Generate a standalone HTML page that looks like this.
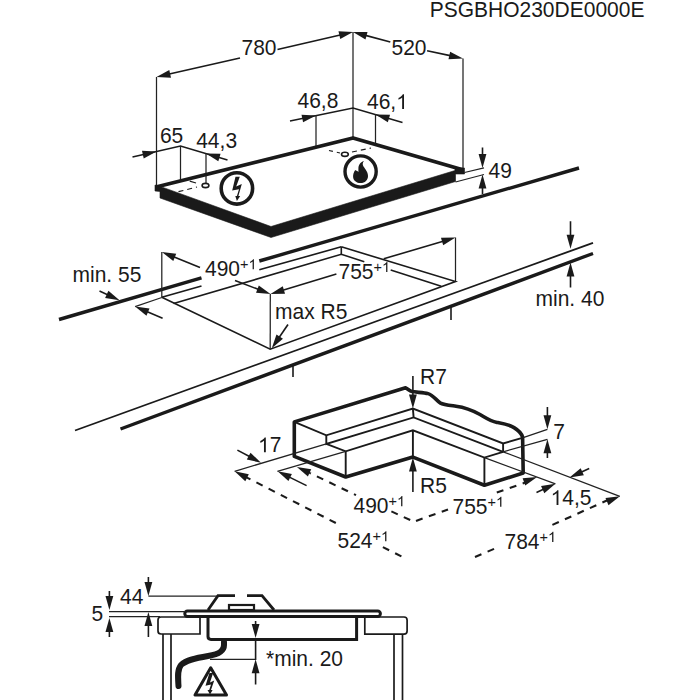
<!DOCTYPE html>
<html><head><meta charset="utf-8"><style>
html,body{margin:0;padding:0;background:#fff;width:700px;height:700px;overflow:hidden}
svg{display:block}
text{font-family:"Liberation Sans",sans-serif;fill:#1a1a1a;stroke:none} .one{fill:none}
</style></head><body>
<svg width="700" height="700" viewBox="0 0 700 700" stroke="#1a1a1a" stroke-linecap="butt">
<text transform="translate(429.70,16.5) scale(1,1.02)" font-size="21">PSGBHO230DE0000E</text>
<line x1="156.50" y1="77.00" x2="156.50" y2="186.00" stroke-width="1.25" stroke="#222"/>
<line x1="353.00" y1="32.00" x2="353.00" y2="137.50" stroke-width="1.25" stroke="#222"/>
<line x1="240.00" y1="58.00" x2="168.20" y2="74.34" stroke-width="1.6" />
<polygon points="156.50,77.00 169.29,70.09 171.02,77.70" fill="#1a1a1a" stroke="none"/>
<line x1="277.50" y1="49.50" x2="341.31" y2="34.71" stroke-width="1.6" />
<polygon points="353.00,32.00 340.24,38.96 338.48,31.36" fill="#1a1a1a" stroke="none"/>
<text transform="translate(241.50,54.9) scale(1,1.02)" font-size="21">780</text>
<line x1="463.00" y1="58.40" x2="463.00" y2="168.00" stroke-width="1.25" stroke="#222"/>
<line x1="390.30" y1="42.10" x2="364.58" y2="35.14" stroke-width="1.6" />
<polygon points="353.00,32.00 367.53,31.89 365.49,39.42" fill="#1a1a1a" stroke="none"/>
<line x1="427.10" y1="50.70" x2="451.27" y2="55.88" stroke-width="1.6" />
<polygon points="463.00,58.40 448.49,59.28 450.13,51.65" fill="#1a1a1a" stroke="none"/>
<text transform="translate(391.50,55) scale(1,1.02)" font-size="21">520</text>
<polyline points="290.00,121.00 353.00,108.00 402.50,122.50" stroke-width="1.6" fill="none" />
<polygon points="316.00,115.60 303.09,122.27 301.50,114.63" fill="#1a1a1a" stroke="none"/>
<polygon points="375.50,114.60 390.03,114.79 387.84,122.27" fill="#1a1a1a" stroke="none"/>
<line x1="316.00" y1="115.00" x2="316.00" y2="146.00" stroke-width="1.25" stroke="#222"/>
<line x1="375.50" y1="114.00" x2="375.50" y2="144.00" stroke-width="1.25" stroke="#222"/>
<text transform="translate(297.50,108.2) scale(1,1.02)" font-size="21">46,8</text>
<text transform="translate(367.00,109) scale(1,1.02)" font-size="21">46,<tspan class="one">1</tspan></text>
<polyline points="132.50,157.00 180.50,146.00 227.50,160.00" stroke-width="1.6" fill="none" />
<polygon points="156.50,151.50 143.72,158.43 141.98,150.83" fill="#1a1a1a" stroke="none"/>
<polygon points="206.00,153.60 220.53,153.86 218.31,161.33" fill="#1a1a1a" stroke="none"/>
<line x1="180.50" y1="146.00" x2="180.50" y2="180.00" stroke-width="1.25" stroke="#222"/>
<line x1="206.00" y1="153.60" x2="206.00" y2="183.00" stroke-width="1.25" stroke="#222"/>
<text transform="translate(159.90,143) scale(1,1.02)" font-size="21">65</text>
<text transform="translate(196.20,147.5) scale(1,1.02)" font-size="21">44,3</text>
<line x1="482.50" y1="147.50" x2="482.50" y2="156.00" stroke-width="1.6" />
<polygon points="482.50,168.00 478.60,154.00 486.40,154.00" fill="#1a1a1a" stroke="none"/>
<line x1="482.50" y1="194.00" x2="482.50" y2="186.50" stroke-width="1.6" />
<polygon points="482.50,174.50 486.40,188.50 478.60,188.50" fill="#1a1a1a" stroke="none"/>
<line x1="464.50" y1="172.50" x2="484.00" y2="167.80" stroke-width="1.25" stroke="#222"/>
<line x1="455.50" y1="182.00" x2="484.00" y2="174.50" stroke-width="1.25" stroke="#222"/>
<text transform="translate(488.50,178) scale(1,1.02)" font-size="21">49</text>
<polyline points="156.00,187.00 353.00,138.00 463.50,170.00" stroke-width="3.8" fill="none" stroke-linejoin="round"/>
<polygon points="155.00,185.00 163.00,187.40 271.00,226.50 455.00,170.50 455.00,168.00 464.50,168.00 464.50,174.00 455.50,174.00 455.50,181.50 271.00,237.50 160.00,198.00 160.00,191.50 155.00,191.00" stroke-width="0.6" fill="#1a1a1a" />
<ellipse cx="205.5" cy="185.5" rx="3.4" ry="2.1" fill="none" stroke-width="1.6"/>
<ellipse cx="344.9" cy="154.3" rx="3.4" ry="2.1" fill="none" stroke-width="1.6"/>
<line x1="178.50" y1="191.70" x2="197.00" y2="187.00" stroke-width="1.2" stroke-dasharray="5 4"/>
<line x1="189.70" y1="181.20" x2="196.00" y2="183.00" stroke-width="1.2" />
<line x1="329.00" y1="150.50" x2="340.00" y2="153.00" stroke-width="1.2" stroke-dasharray="4 4"/>
<line x1="352.00" y1="152.00" x2="371.00" y2="148.00" stroke-width="1.2" stroke-dasharray="5 4"/>
<circle cx="236.9" cy="188.4" r="15.7" fill="none" stroke-width="3.6"/>
<polygon points="235.5,176.8 239.8,176.8 236.2,186.6 241.8,184.0 238.4,196.0 240.2,196.0 236.9,201.0 235.3,196.0 236.9,196.0 239.0,189.2 232.2,190.6" fill="#1a1a1a" stroke="none"/>
<circle cx="360.6" cy="171.5" r="15.6" fill="none" stroke-width="3.4"/>
<path d="M364,160.9 C360,162 358.5,165 358.4,168.5 L358.4,172 C357.5,171 356,170.5 355.2,170 C353.6,172 353,175 353.1,177 C353.3,180.5 356.5,183.1 360.6,183.1 C365,183.1 368,180 368,176 C368,172 365.5,169.5 363.5,166.5 C362.3,164.5 362.5,162.5 364,160.9 Z" fill="#1a1a1a" stroke="none"/>
<line x1="59.00" y1="319.50" x2="201.50" y2="277.90" stroke-width="3.4" />
<line x1="259.30" y1="261.00" x2="579.00" y2="168.00" stroke-width="3.4" />
<line x1="161.80" y1="297.30" x2="201.50" y2="286.00" stroke-width="1.6" />
<line x1="259.30" y1="269.80" x2="341.30" y2="246.80" stroke-width="1.6" />
<polyline points="341.30,246.80 455.50,281.50 270.20,349.20 161.80,297.30" stroke-width="1.6" fill="none" />
<polyline points="173.60,303.50 341.30,254.30 364.30,261.65" stroke-width="1.6" fill="none" />
<line x1="390.70" y1="270.10" x2="441.25" y2="286.25" stroke-width="1.6" />
<line x1="341.30" y1="246.80" x2="341.30" y2="254.30" stroke-width="1.6" />
<line x1="161.80" y1="252.00" x2="161.80" y2="297.30" stroke-width="1.25" stroke="#222"/>
<line x1="200.00" y1="267.50" x2="172.92" y2="256.51" stroke-width="1.6" />
<polygon points="161.80,252.00 176.24,253.65 173.31,260.88" fill="#1a1a1a" stroke="none"/>
<line x1="235.00" y1="280.50" x2="259.28" y2="289.73" stroke-width="1.6" />
<polygon points="270.50,294.00 256.03,292.67 258.80,285.38" fill="#1a1a1a" stroke="none"/>
<line x1="270.30" y1="294.00" x2="270.20" y2="349.20" stroke-width="1.25" stroke="#222"/>
<line x1="336.40" y1="274.00" x2="281.98" y2="290.52" stroke-width="1.6" />
<polygon points="270.50,294.00 282.76,286.20 285.03,293.67" fill="#1a1a1a" stroke="none"/>
<line x1="383.75" y1="258.80" x2="444.00" y2="240.92" stroke-width="1.6" />
<polygon points="455.50,237.50 443.19,245.22 440.97,237.75" fill="#1a1a1a" stroke="none"/>
<line x1="455.50" y1="237.50" x2="455.50" y2="281.50" stroke-width="1.25" stroke="#222"/>
<text transform="translate(205.00,276) scale(1,1.02)" font-size="21">490<tspan font-size="14.5" dy="-6.5">+<tspan class="one">1</tspan></tspan></text>
<text transform="translate(338.50,278.75) scale(1,1.02)" font-size="21">755<tspan font-size="14.5" dy="-6.5">+<tspan class="one">1</tspan></tspan></text>
<line x1="99.50" y1="291.00" x2="108.60" y2="295.19" stroke-width="1.6" />
<polygon points="119.50,300.20 105.15,297.89 108.41,290.81" fill="#1a1a1a" stroke="none"/>
<line x1="162.60" y1="318.30" x2="146.14" y2="311.30" stroke-width="1.6" />
<polygon points="135.10,306.60 149.51,308.49 146.46,315.67" fill="#1a1a1a" stroke="none"/>
<line x1="135.10" y1="306.60" x2="161.80" y2="297.50" stroke-width="1.25" stroke="#222"/>
<text transform="translate(72.50,281.8) scale(1,1.02)" font-size="21">min. 55</text>
<line x1="75.00" y1="430.50" x2="593.00" y2="242.80" stroke-width="1.8" />
<line x1="120.50" y1="429.00" x2="593.00" y2="253.50" stroke-width="3.4" />
<line x1="293.00" y1="364.50" x2="293.00" y2="377.00" stroke-width="1.6" />
<line x1="451.00" y1="306.00" x2="451.00" y2="320.00" stroke-width="1.6" />
<line x1="570.50" y1="221.25" x2="570.50" y2="236.75" stroke-width="1.6" />
<polygon points="570.50,248.75 566.60,234.75 574.40,234.75" fill="#1a1a1a" stroke="none"/>
<line x1="570.50" y1="287.50" x2="570.50" y2="274.50" stroke-width="1.6" />
<polygon points="570.50,262.50 574.40,276.50 566.60,276.50" fill="#1a1a1a" stroke="none"/>
<text transform="translate(535.50,306) scale(1,1.02)" font-size="21">min. 40</text>
<line x1="288.00" y1="324.50" x2="278.57" y2="338.29" stroke-width="1.6" />
<polygon points="271.80,348.20 276.48,334.44 282.92,338.84" fill="#1a1a1a" stroke="none"/>
<text transform="translate(275.00,318.8) scale(1,1.02)" font-size="21">max R5</text>
<path d="M294.3,456.4 L294.3,421.9 L405.6,387.8 C408,389 409.5,391 412,391.6 C416,392.4 424,392.4 428,393.6 C433,395 436,400 440,402.8 C444,405 450,405.4 456,406.2 C464,407.2 472,410 480,414.5 C486,418 490,421 497,422.4 C503,423.5 509,424.5 514,427.6 C518,430 521,432 522.6,437 L523.2,473 L484.4,485.2 L412.9,457.1 L345.7,477 Z" fill="none" stroke-width="3.6" stroke-linejoin="round"/>
<polyline points="294.30,421.90 326.30,435.30 412.90,408.60 503.10,443.40 523.20,437.60" stroke-width="1.9" fill="none" />
<polyline points="326.30,435.30 326.30,443.90 413.60,417.40 503.10,451.80" stroke-width="1.9" fill="none" />
<line x1="412.90" y1="408.60" x2="413.60" y2="417.40" stroke-width="1.9" />
<line x1="503.10" y1="443.40" x2="503.10" y2="451.80" stroke-width="1.9" />
<polyline points="326.30,443.90 345.70,451.30 412.90,430.30 484.40,457.60 503.10,451.80" stroke-width="1.9" fill="none" />
<line x1="345.70" y1="451.30" x2="345.70" y2="477.00" stroke-width="1.9" />
<line x1="412.90" y1="430.30" x2="412.90" y2="457.10" stroke-width="1.9" />
<line x1="484.40" y1="457.60" x2="484.40" y2="485.20" stroke-width="1.9" />
<line x1="412.90" y1="376.00" x2="412.90" y2="396.60" stroke-width="1.6" />
<polygon points="412.90,408.60 409.00,394.60 416.80,394.60" fill="#1a1a1a" stroke="none"/>
<line x1="412.90" y1="492.00" x2="412.90" y2="469.50" stroke-width="1.6" />
<polygon points="412.90,457.50 416.80,471.50 409.00,471.50" fill="#1a1a1a" stroke="none"/>
<text transform="translate(420.00,384) scale(1,1.02)" font-size="21">R7</text>
<text transform="translate(420.00,492.9) scale(1,1.02)" font-size="21">R5</text>
<line x1="523.20" y1="437.60" x2="547.40" y2="429.30" stroke-width="1.25" stroke="#222"/>
<line x1="503.10" y1="451.80" x2="547.40" y2="439.30" stroke-width="1.25" stroke="#222"/>
<line x1="547.40" y1="407.00" x2="547.40" y2="417.30" stroke-width="1.6" />
<polygon points="547.40,429.30 543.50,415.30 551.30,415.30" fill="#1a1a1a" stroke="none"/>
<line x1="547.40" y1="458.00" x2="547.40" y2="451.30" stroke-width="1.6" />
<polygon points="547.40,439.30 551.30,453.30 543.50,453.30" fill="#1a1a1a" stroke="none"/>
<text transform="translate(553.20,438.5) scale(1,1.02)" font-size="21">7</text>
<line x1="234.60" y1="471.30" x2="326.30" y2="443.90" stroke-width="1.25" stroke="#222"/>
<line x1="277.40" y1="471.30" x2="345.70" y2="451.30" stroke-width="1.25" stroke="#222"/>
<line x1="237.40" y1="450.10" x2="250.41" y2="457.05" stroke-width="1.6" />
<polygon points="261.00,462.70 246.81,459.55 250.49,452.67" fill="#1a1a1a" stroke="none"/>
<line x1="306.60" y1="485.60" x2="288.36" y2="476.61" stroke-width="1.6" />
<polygon points="277.60,471.30 291.88,473.99 288.43,480.99" fill="#1a1a1a" stroke="none"/>
<text transform="translate(258.00,452.2) scale(1,1.02)" font-size="21"><tspan class="one">1</tspan>7</text>
<line x1="503.10" y1="451.80" x2="619.80" y2="496.40" stroke-width="1.25" stroke="#222"/>
<line x1="484.40" y1="457.60" x2="555.40" y2="483.80" stroke-width="1.25" stroke="#222"/>
<line x1="589.20" y1="468.60" x2="580.44" y2="472.56" stroke-width="1.6" />
<polygon points="569.50,477.50 580.65,468.18 583.86,475.29" fill="#1a1a1a" stroke="none"/>
<line x1="536.50" y1="492.50" x2="544.50" y2="488.82" stroke-width="1.6" />
<polygon points="555.40,483.80 544.31,493.20 541.05,486.11" fill="#1a1a1a" stroke="none"/>
<text transform="translate(550.60,504.9) scale(1,1.02)" font-size="21"><tspan class="one">1</tspan>4,5</text>
<polygon points="296.90,466.90 311.23,469.33 307.91,476.39" fill="#1a1a1a" stroke="none"/>
<line x1="305.00" y1="470.70" x2="310.00" y2="473.10" stroke-width="2.1" />
<line x1="310.00" y1="473.10" x2="310.86" y2="473.51" stroke-width="2.1" />
<line x1="316.90" y1="476.40" x2="323.21" y2="479.42" stroke-width="2.1" />
<line x1="329.26" y1="482.31" x2="335.57" y2="485.33" stroke-width="2.1" />
<line x1="341.62" y1="488.22" x2="347.93" y2="491.24" stroke-width="2.1" />
<line x1="353.98" y1="494.13" x2="356.00" y2="495.10" stroke-width="2.1" />
<line x1="391.40" y1="511.40" x2="397.76" y2="514.33" stroke-width="2.1" />
<line x1="403.84" y1="517.14" x2="410.19" y2="520.07" stroke-width="2.1" />
<line x1="416.00" y1="521.00" x2="422.58" y2="518.61" stroke-width="2.1" />
<line x1="428.88" y1="516.33" x2="435.46" y2="513.95" stroke-width="2.1" />
<line x1="441.76" y1="511.66" x2="448.00" y2="509.40" stroke-width="2.1" />
<line x1="496.80" y1="492.50" x2="503.40" y2="490.18" stroke-width="2.1" />
<line x1="509.73" y1="487.96" x2="516.33" y2="485.64" stroke-width="2.1" />
<line x1="522.65" y1="483.42" x2="526.40" y2="482.10" stroke-width="2.1" />
<polygon points="537.10,477.10 525.27,485.54 522.61,478.20" fill="#1a1a1a" stroke="none"/>
<polygon points="234.60,471.30 248.84,474.19 245.30,481.14" fill="#1a1a1a" stroke="none"/>
<line x1="246.00" y1="477.10" x2="250.43" y2="479.37" stroke-width="2.1" />
<line x1="256.40" y1="482.41" x2="262.63" y2="485.60" stroke-width="2.1" />
<line x1="268.60" y1="488.65" x2="274.83" y2="491.83" stroke-width="2.1" />
<line x1="280.80" y1="494.88" x2="287.03" y2="498.07" stroke-width="2.1" />
<line x1="293.00" y1="501.12" x2="299.23" y2="504.30" stroke-width="2.1" />
<line x1="305.20" y1="507.35" x2="311.43" y2="510.53" stroke-width="2.1" />
<line x1="317.40" y1="513.58" x2="323.63" y2="516.77" stroke-width="2.1" />
<line x1="329.60" y1="519.82" x2="335.83" y2="523.00" stroke-width="2.1" />
<line x1="382.90" y1="547.10" x2="389.15" y2="550.24" stroke-width="2.1" />
<line x1="395.14" y1="553.25" x2="401.39" y2="556.40" stroke-width="2.1" />
<line x1="475.00" y1="557.00" x2="481.44" y2="554.26" stroke-width="2.1" />
<line x1="487.61" y1="551.64" x2="494.05" y2="548.90" stroke-width="2.1" />
<line x1="552.40" y1="524.90" x2="558.79" y2="522.04" stroke-width="2.1" />
<line x1="564.90" y1="519.30" x2="571.29" y2="516.44" stroke-width="2.1" />
<line x1="577.40" y1="513.70" x2="583.79" y2="510.83" stroke-width="2.1" />
<line x1="589.91" y1="508.09" x2="596.29" y2="505.23" stroke-width="2.1" />
<line x1="602.41" y1="502.49" x2="607.30" y2="500.30" stroke-width="2.1" />
<polygon points="619.90,496.30 608.49,505.31 605.48,498.11" fill="#1a1a1a" stroke="none"/>
<text transform="translate(353.50,512.9) scale(1,1.02)" font-size="21">490<tspan font-size="14.5" dy="-6.5">+<tspan class="one">1</tspan></tspan></text>
<text transform="translate(452.50,513.5) scale(1,1.02)" font-size="21">755<tspan font-size="14.5" dy="-6.5">+<tspan class="one">1</tspan></tspan></text>
<text transform="translate(337.50,548) scale(1,1.02)" font-size="21">524<tspan font-size="14.5" dy="-6.5">+<tspan class="one">1</tspan></tspan></text>
<text transform="translate(504.50,548.6) scale(1,1.02)" font-size="21">784<tspan font-size="14.5" dy="-6.5">+<tspan class="one">1</tspan></tspan></text>
<text transform="translate(91.50,621.3) scale(1,1.02)" font-size="21">5</text>
<text transform="translate(120.00,603.7) scale(1,1.02)" font-size="21">44</text>
<line x1="109.40" y1="591.00" x2="109.40" y2="598.00" stroke-width="1.6" />
<polygon points="109.40,610.00 105.50,596.00 113.30,596.00" fill="#1a1a1a" stroke="none"/>
<line x1="109.40" y1="637.00" x2="109.40" y2="630.00" stroke-width="1.6" />
<polygon points="109.40,618.00 113.30,632.00 105.50,632.00" fill="#1a1a1a" stroke="none"/>
<line x1="148.40" y1="577.00" x2="148.40" y2="584.00" stroke-width="1.6" />
<polygon points="148.40,596.00 144.50,582.00 152.30,582.00" fill="#1a1a1a" stroke="none"/>
<line x1="148.40" y1="637.00" x2="148.40" y2="624.00" stroke-width="1.6" />
<polygon points="148.40,612.00 152.30,626.00 144.50,626.00" fill="#1a1a1a" stroke="none"/>
<line x1="148.40" y1="596.00" x2="218.00" y2="596.00" stroke-width="1.25" stroke="#222"/>
<line x1="109.00" y1="611.60" x2="184.00" y2="611.60" stroke-width="1.25" stroke="#222"/>
<line x1="109.00" y1="616.60" x2="160.00" y2="616.60" stroke-width="1.25" stroke="#222"/>
<path d="M200,617 L161,617 Q158,617 158,620 L158,631 Q158,634 161,634 L200,634 Z" fill="none" stroke-width="1.7"/>
<path d="M364.8,617 L404,617 Q407.1,617 407.1,620 L407.1,631 Q407.1,634.2 404,634.2 L364.8,634.2 Z" fill="none" stroke-width="1.7"/>
<line x1="163.00" y1="634.00" x2="163.00" y2="700.00" stroke-width="1.7" />
<line x1="171.00" y1="634.00" x2="171.00" y2="700.00" stroke-width="1.7" />
<line x1="394.00" y1="634.00" x2="394.00" y2="700.00" stroke-width="1.7" />
<line x1="402.50" y1="634.00" x2="402.50" y2="700.00" stroke-width="1.7" />
<rect x="184.8" y="611.1" width="195.6" height="5.4" rx="2.7" fill="none" stroke-width="3"/>
<path d="M208,617.5 L208,636.5 Q208,639.4 211,639.4 L356.6,639.4 L356.6,617.5" fill="none" stroke-width="3"/>
<polyline points="208.00,610.00 218.00,595.60 235.00,595.60" stroke-width="2.8" fill="none" />
<polyline points="247.00,595.60 262.00,595.60 274.00,610.00" stroke-width="2.8" fill="none" />
<rect x="229" y="605" width="25" height="5" fill="none" stroke-width="2.2"/>
<path d="M224,642 L224,645 C224,650 221,654 208,656 C196,658 186,660 181,665 C177,670 178,678 178.5,686" fill="none" stroke-width="6" stroke-linecap="round"/>
<line x1="210.00" y1="659.30" x2="256.00" y2="659.30" stroke-width="1.25" stroke="#222"/>
<line x1="255.60" y1="621.00" x2="255.60" y2="626.00" stroke-width="1.6" />
<polygon points="255.60,638.00 251.70,624.00 259.50,624.00" fill="#1a1a1a" stroke="none"/>
<line x1="255.60" y1="684.50" x2="255.60" y2="671.20" stroke-width="1.6" />
<polygon points="255.60,659.20 259.50,673.20 251.70,673.20" fill="#1a1a1a" stroke="none"/>
<line x1="255.60" y1="639.00" x2="255.60" y2="660.00" stroke-width="1.6" />
<text transform="translate(266.00,666.4) scale(1,1.02)" font-size="21">*min. 20</text>
<path d="M210.7,667.8 L195,695 L226.5,695 Z" fill="none" stroke-width="3" stroke-linejoin="round"/>
<polygon points="209.4,673 213.1,673 210.0,682.6 214.2,680.5 211.0,690.0 212.6,690.0 210.0,694.6 207.5,690.0 209.2,690.0 211.0,684.6 205.5,685.8" fill="#1a1a1a" stroke="none"/>
<path transform="translate(367.00,109) scale(1,1.02) translate(29.19,0.00) scale(0.01025,-0.00986)" d="M763 0H583V1147Q518 1085 412.5 1023T223 930V1104Q375 1175 489 1276T650 1466H763V0Z" fill="#1a1a1a" stroke="none"/>
<path transform="translate(205.00,276) scale(1,1.02) translate(43.50,-6.50) scale(0.00708,-0.00680)" d="M763 0H583V1147Q518 1085 412.5 1023T223 930V1104Q375 1175 489 1276T650 1466H763V0Z" fill="#1a1a1a" stroke="none"/>
<path transform="translate(338.50,278.75) scale(1,1.02) translate(43.50,-6.50) scale(0.00708,-0.00680)" d="M763 0H583V1147Q518 1085 412.5 1023T223 930V1104Q375 1175 489 1276T650 1466H763V0Z" fill="#1a1a1a" stroke="none"/>
<path transform="translate(258.00,452.2) scale(1,1.02) translate(0.00,0.00) scale(0.01025,-0.00986)" d="M763 0H583V1147Q518 1085 412.5 1023T223 930V1104Q375 1175 489 1276T650 1466H763V0Z" fill="#1a1a1a" stroke="none"/>
<path transform="translate(550.60,504.9) scale(1,1.02) translate(0.00,0.00) scale(0.01025,-0.00986)" d="M763 0H583V1147Q518 1085 412.5 1023T223 930V1104Q375 1175 489 1276T650 1466H763V0Z" fill="#1a1a1a" stroke="none"/>
<path transform="translate(353.50,512.9) scale(1,1.02) translate(43.50,-6.50) scale(0.00708,-0.00680)" d="M763 0H583V1147Q518 1085 412.5 1023T223 930V1104Q375 1175 489 1276T650 1466H763V0Z" fill="#1a1a1a" stroke="none"/>
<path transform="translate(452.50,513.5) scale(1,1.02) translate(43.50,-6.50) scale(0.00708,-0.00680)" d="M763 0H583V1147Q518 1085 412.5 1023T223 930V1104Q375 1175 489 1276T650 1466H763V0Z" fill="#1a1a1a" stroke="none"/>
<path transform="translate(337.50,548) scale(1,1.02) translate(43.50,-6.50) scale(0.00708,-0.00680)" d="M763 0H583V1147Q518 1085 412.5 1023T223 930V1104Q375 1175 489 1276T650 1466H763V0Z" fill="#1a1a1a" stroke="none"/>
<path transform="translate(504.50,548.6) scale(1,1.02) translate(43.50,-6.50) scale(0.00708,-0.00680)" d="M763 0H583V1147Q518 1085 412.5 1023T223 930V1104Q375 1175 489 1276T650 1466H763V0Z" fill="#1a1a1a" stroke="none"/>
</svg></body></html>
